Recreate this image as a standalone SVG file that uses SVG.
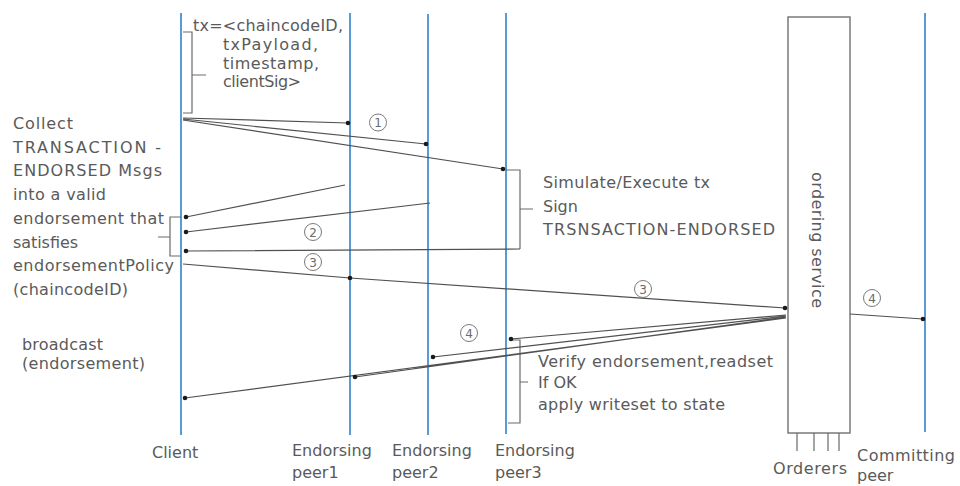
<svg xmlns="http://www.w3.org/2000/svg" width="960" height="486" viewBox="0 0 960 486">
  <defs>
    <style>
      .life { stroke: #5b9bd5; stroke-width: 2; fill: none; }
      .box { stroke: #7a7a7a; stroke-width: 1.5; fill: #ffffff; }
      .msg { stroke: #505050; stroke-width: 1.2; fill: none; }
      .brk { stroke: #6a6a6a; stroke-width: 1.2; fill: none; }
      .dot { fill: #1a1a1a; }
      .num { stroke: #7a7a7a; stroke-width: 1; fill: none; }
      text { font-family: "DejaVu Sans", "Liberation Sans", sans-serif; font-size: 16px; fill: #5a5a5a; }
      .n { font-size: 12px; text-anchor: middle; fill: #6a6a6a; }
    </style>
  </defs>

  <rect width="960" height="486" fill="#ffffff"/>

  <!-- lifelines -->
  <g id="client">
    <line class="life" x1="181" y1="13" x2="181" y2="435"/>
    <text x="152" y="458">Client</text>
  </g>
  <g id="peer1">
    <line class="life" x1="350" y1="13" x2="350" y2="435"/>
    <text x="292" y="456">Endorsing</text>
    <text x="292" y="478">peer1</text>
  </g>
  <g id="peer2">
    <line class="life" x1="428" y1="14" x2="428" y2="435"/>
    <text x="392" y="456">Endorsing</text>
    <text x="392" y="478">peer2</text>
  </g>
  <g id="peer3">
    <line class="life" x1="506" y1="13" x2="506" y2="434"/>
    <text x="495" y="456">Endorsing</text>
    <text x="495" y="478">peer3</text>
  </g>
  <g id="orderer">
    <rect class="box" x="788" y="17" width="62" height="416"/>
    <text transform="translate(812 172) rotate(90)" textLength="136">ordering service</text>
    <path class="brk" d="M797 433V451M814 433V451M828 433V451M839 433V451"/>
    <text x="773" y="474" textLength="74">Orderers</text>
  </g>
  <g id="committer">
    <line class="life" x1="925" y1="13" x2="925" y2="432"/>
    <text x="857" y="461" textLength="98">Committing</text>
    <text x="857" y="481">peer</text>
  </g>

  <!-- annotations -->
  <g id="tx-note">
    <path class="brk" d="M183 32H192V113H183M192 75H206"/>
    <text x="193" y="31" textLength="150">tx=&lt;chaincodeID,</text>
    <text x="223" y="50" textLength="95">txPayload,</text>
    <text x="223" y="68.5" textLength="96">timestamp,</text>
    <text x="223" y="87" textLength="78">clientSig&gt;</text>
  </g>
  <g id="collect-note">
    <path class="brk" d="M181 217H170V256H181M170 237H158"/>
    <text x="13" y="129" textLength="60">Collect</text>
    <text x="13" y="152.5" textLength="148">TRANSACTION -</text>
    <text x="13" y="176" textLength="149">ENDORSED Msgs</text>
    <text x="13" y="200" textLength="93">into a valid</text>
    <text x="13" y="224" textLength="151">endorsement that</text>
    <text x="13" y="247.5" textLength="65">satisfies</text>
    <text x="13" y="271" textLength="161">endorsementPolicy</text>
    <text x="13" y="295" textLength="115">(chaincodeID)</text>
  </g>
  <g id="broadcast-note">
    <text x="22" y="350" textLength="81">broadcast</text>
    <text x="22" y="369" textLength="123">(endorsement)</text>
  </g>
  <g id="endorse-note">
    <path class="brk" d="M506 170H520V249M520 209H533"/>
    <text x="543" y="188" textLength="167">Simulate/Execute tx</text>
    <text x="543" y="212">Sign</text>
    <text x="543" y="235" textLength="232">TRSNSACTION-ENDORSED</text>
  </g>
  <g id="verify-note">
    <path class="brk" d="M511 340H520V423H508M520 382H528"/>
    <text x="538" y="367" textLength="235">Verify endorsement,readset</text>
    <text x="538" y="388">If OK</text>
    <text x="538" y="410" textLength="187">apply writeset to state</text>
  </g>

  <!-- messages -->
  <g id="connectors">
    <!-- 1: proposal to endorsers -->
    <path class="msg" d="M183 118L348 123M183 119L426 144M183 120L503 169"/>
    <!-- 2: endorsements back to client -->
    <path class="msg" d="M345 185L186 217M430 203L186 232M520 249L186 251"/>
    <!-- 3: endorsement to ordering service -->
    <path class="msg" d="M183 264L350 278L785 308"/>
    <!-- 4: delivery from ordering service -->
    <path class="msg" d="M786 315L511 339M786 316L433 357M786 317L355 377M786 318L185 398M850 314L923 319"/>

    <circle class="dot" cx="348" cy="123" r="2.3"/>
    <circle class="dot" cx="426" cy="144" r="2.3"/>
    <circle class="dot" cx="503" cy="169" r="2.3"/>
    <circle class="dot" cx="186" cy="217" r="2.3"/>
    <circle class="dot" cx="186" cy="232" r="2.3"/>
    <circle class="dot" cx="186" cy="251" r="2.3"/>
    <circle class="dot" cx="350" cy="278" r="2.3"/>
    <circle class="dot" cx="785" cy="308" r="2.3"/>
    <circle class="dot" cx="511" cy="339" r="2.3"/>
    <circle class="dot" cx="433" cy="357" r="2.3"/>
    <circle class="dot" cx="355" cy="377" r="2.3"/>
    <circle class="dot" cx="185" cy="398" r="2.3"/>
    <circle class="dot" cx="923" cy="319" r="2.3"/>

    <circle class="num" cx="378" cy="122.5" r="8.5"/>
    <text class="n" x="378" y="127">1</text>
    <circle class="num" cx="313" cy="232" r="8.5"/>
    <text class="n" x="313" y="236.5">2</text>
    <circle class="num" cx="313" cy="262" r="8.5"/>
    <text class="n" x="313" y="266.5">3</text>
    <circle class="num" cx="643" cy="289" r="8.5"/>
    <text class="n" x="643" y="293.5">3</text>
    <circle class="num" cx="469" cy="333" r="8.5"/>
    <text class="n" x="469" y="337.5">4</text>
    <circle class="num" cx="872" cy="298" r="8.5"/>
    <text class="n" x="872" y="302.5">4</text>
  </g>
</svg>
